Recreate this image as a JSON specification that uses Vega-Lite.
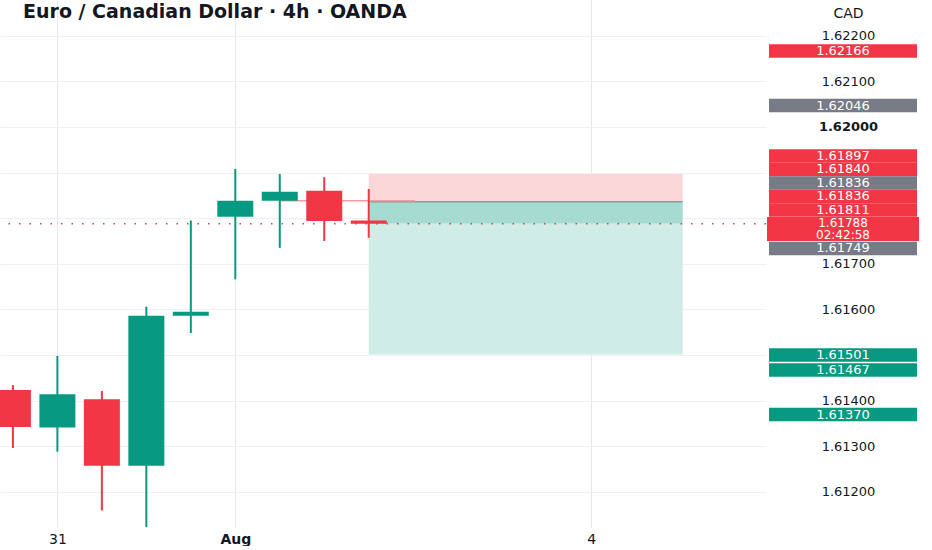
{
  "$schema": "https://vega.github.io/schema/vega-lite/v6.json",
  "padding": 0,
  "background": "white",
  "spacing": 3,
  "bounds": "flush",
  "config": {"view": {"stroke": null}, "font": "DejaVu Sans"},
  "resolve": {
    "scale": {"x": "independent", "y": "independent", "color": "independent"},
    "axis": {"x": "independent", "y": "independent"}
  },
  "datasets": {
    "candles": [
      {"bar": 0, "open": 1.61423, "high": 1.61434, "low": 1.61296, "close": 1.61342},
      {"bar": 1, "open": 1.61341, "high": 1.61498, "low": 1.61288, "close": 1.61414},
      {"bar": 2, "open": 1.61403, "high": 1.61421, "low": 1.61159, "close": 1.61257},
      {"bar": 3, "open": 1.61257, "high": 1.61606, "low": 1.61122, "close": 1.61586},
      {"bar": 4, "open": 1.61586, "high": 1.61795, "low": 1.61548, "close": 1.61595},
      {"bar": 5, "open": 1.61803, "high": 1.61908, "low": 1.61666, "close": 1.61838},
      {"bar": 6, "open": 1.61838, "high": 1.61897, "low": 1.61735, "close": 1.61858},
      {"bar": 7, "open": 1.61860, "high": 1.61890, "low": 1.61750, "close": 1.61794},
      {"bar": 8, "open": 1.61795, "high": 1.61864, "low": 1.61757, "close": 1.61788}
    ],
    "zones": [
      {"zone": "stop", "start": 8, "end": 15.06, "top": 1.61897, "bottom": 1.61836},
      {"zone": "open", "start": 8, "end": 15.06, "top": 1.61836, "bottom": 1.61788},
      {"zone": "target", "start": 8, "end": 15.06, "top": 1.61788, "bottom": 1.61501}
    ],
    "lines": [
      {"kind": "entry", "start": 8, "end": 15.06, "price": 1.61836},
      {"kind": "ray", "start": 6, "end": 9.04, "price": 1.61838}
    ],
    "last": [{"price": 1.61788}],
    "badges": [
      {"price": 1.62166, "level": 1.621667, "side": "sell"},
      {"price": 1.62046, "level": 1.620471, "side": "neutral"},
      {"price": 1.61897, "level": 1.619364, "side": "sell"},
      {"price": 1.61840, "level": 1.619068, "side": "sell"},
      {"price": 1.61836, "level": 1.618772, "side": "neutral"},
      {"price": 1.61836, "level": 1.618476, "side": "sell"},
      {"price": 1.61811, "level": 1.618180, "side": "sell"},
      {"price": 1.61749, "level": 1.617336, "side": "neutral"},
      {"price": 1.61501, "level": 1.615000, "side": "buy"},
      {"price": 1.61467, "level": 1.614671, "side": "buy"},
      {"price": 1.61370, "level": 1.613695, "side": "buy"}
    ],
    "countdown": [
      {"price": 1.61788, "level": 1.617763, "label": "1.61788\n02:42:58"}
    ]
  },
  "hconcat": [
    {
      "width": 766,
      "height": 527,
      "title": {
        "text": "Euro / Canadian Dollar · 4h · OANDA",
        "anchor": "start",
        "frame": "group",
        "orient": "top",
        "offset": -37,
        "dx": 23,
        "baseline": "alphabetic",
        "fontSize": 19,
        "fontWeight": "bold",
        "color": "#131722",
        "font": "DejaVu Sans"
      },
      "layer": [
        {
          "data": {"name": "zones"},
          "mark": {"type": "rect", "clip": true},
          "encoding": {
            "x": {"field": "start", "type": "quantitative",
                  "scale": {"domain": [-0.178, 16.82], "nice": false, "zero": false},
                  "axis": {"values": [1, 5, 13], "title": null, "labelExpr": "datum.value == 1 ? '31' : datum.value == 5 ? 'Aug' : datum.value == 13 ? '4' : ''", "grid": true, "gridColor": "#e6e8ec", "domain": false, "ticks": false, "labelFontSize": 14, "labelColor": "#131722", "labelPadding": 5, "labelFontWeight": {"condition": {"test": "datum.value == 5", "value": "bold"}, "value": "normal"}}},
            "x2": {"field": "end"},
            "y": {"field": "top", "type": "quantitative",
                  "scale": {"domain": [1.611228, 1.622785], "nice": false, "zero": false},
                  "axis": {"orient": "right", "values": [1.612, 1.613, 1.614, 1.615, 1.616, 1.617, 1.618, 1.619, 1.62, 1.621, 1.622], "labels": false, "ticks": false, "domain": false, "grid": true, "gridColor": "#eef0f3", "title": null}},
            "y2": {"field": "bottom"},
            "color": {"field": "zone", "type": "nominal",
                      "scale": {"domain": ["stop", "open", "target"], "range": ["#fcd7da", "#a6dbd1", "#d0ece7"]},
                      "legend": null}
          }
        },
        {
          "data": {"name": "lines"},
          "mark": {"type": "rule", "clip": true, "strokeWidth": 1.5},
          "encoding": {
            "x": {"field": "start", "type": "quantitative", "scale": {"domain": [-0.178, 16.82], "nice": false, "zero": false},
                  "axis": {"values": [1, 5, 13], "title": null, "labelExpr": "datum.value == 1 ? '31' : datum.value == 5 ? 'Aug' : datum.value == 13 ? '4' : ''", "grid": true, "gridColor": "#e6e8ec", "domain": false, "ticks": false, "labelFontSize": 14, "labelColor": "#131722", "labelPadding": 5, "labelFontWeight": {"condition": {"test": "datum.value == 5", "value": "bold"}, "value": "normal"}}},
            "x2": {"field": "end"},
            "y": {"field": "price", "type": "quantitative", "scale": {"domain": [1.611228, 1.622785], "nice": false, "zero": false},
                  "axis": {"orient": "right", "values": [1.612, 1.613, 1.614, 1.615, 1.616, 1.617, 1.618, 1.619, 1.62, 1.621, 1.622], "labels": false, "ticks": false, "domain": false, "grid": true, "gridColor": "#eef0f3", "title": null}},
            "color": {"condition": {"test": "datum.kind == 'entry'", "value": "#8a9a98"}, "value": "#f49aa2"}
          }
        },
        {
          "data": {"name": "last"},
          "mark": {"type": "rule", "clip": true, "color": "#f23645", "strokeWidth": 1.5, "strokeDash": [1.5, 9]},
          "encoding": {
            "y": {"field": "price", "type": "quantitative", "scale": {"domain": [1.611228, 1.622785], "nice": false, "zero": false},
                  "axis": {"orient": "right", "values": [1.612, 1.613, 1.614, 1.615, 1.616, 1.617, 1.618, 1.619, 1.62, 1.621, 1.622], "labels": false, "ticks": false, "domain": false, "grid": true, "gridColor": "#eef0f3", "title": null}}
          }
        },
        {
          "data": {"name": "candles"},
          "mark": {"type": "rule", "clip": true, "strokeWidth": 2},
          "encoding": {
            "x": {"field": "bar", "type": "quantitative", "scale": {"domain": [-0.178, 16.82], "nice": false, "zero": false},
                  "axis": {"values": [1, 5, 13], "title": null, "labelExpr": "datum.value == 1 ? '31' : datum.value == 5 ? 'Aug' : datum.value == 13 ? '4' : ''", "grid": true, "gridColor": "#e6e8ec", "domain": false, "ticks": false, "labelFontSize": 14, "labelColor": "#131722", "labelPadding": 5, "labelFontWeight": {"condition": {"test": "datum.value == 5", "value": "bold"}, "value": "normal"}}},
            "y": {"field": "low", "type": "quantitative", "scale": {"domain": [1.611228, 1.622785], "nice": false, "zero": false},
                  "axis": {"orient": "right", "values": [1.612, 1.613, 1.614, 1.615, 1.616, 1.617, 1.618, 1.619, 1.62, 1.621, 1.622], "labels": false, "ticks": false, "domain": false, "grid": true, "gridColor": "#eef0f3", "title": null}},
            "y2": {"field": "high"},
            "color": {"condition": {"test": "datum.close >= datum.open", "value": "#089981"}, "value": "#f23645"}
          }
        },
        {
          "data": {"name": "candles"},
          "mark": {"type": "bar", "clip": true, "width": 36},
          "encoding": {
            "x": {"field": "bar", "type": "quantitative", "scale": {"domain": [-0.178, 16.82], "nice": false, "zero": false},
                  "axis": {"values": [1, 5, 13], "title": null, "labelExpr": "datum.value == 1 ? '31' : datum.value == 5 ? 'Aug' : datum.value == 13 ? '4' : ''", "grid": true, "gridColor": "#e6e8ec", "domain": false, "ticks": false, "labelFontSize": 14, "labelColor": "#131722", "labelPadding": 5, "labelFontWeight": {"condition": {"test": "datum.value == 5", "value": "bold"}, "value": "normal"}}},
            "y": {"field": "open", "type": "quantitative", "scale": {"domain": [1.611228, 1.622785], "nice": false, "zero": false},
                  "axis": {"orient": "right", "values": [1.612, 1.613, 1.614, 1.615, 1.616, 1.617, 1.618, 1.619, 1.62, 1.621, 1.622], "labels": false, "ticks": false, "domain": false, "grid": true, "gridColor": "#eef0f3", "title": null}},
            "y2": {"field": "close"},
            "color": {"condition": {"test": "datum.close >= datum.open", "value": "#089981"}, "value": "#f23645"}
          }
        }
      ]
    },
    {
      "width": 148,
      "height": 527,
      "layer": [
        {
          "data": {"name": "badges"},
          "mark": {"type": "tick", "orient": "horizontal", "thickness": 13.5, "size": 148, "opacity": 1},
          "encoding": {
            "y": {"field": "level", "type": "quantitative", "scale": {"domain": [1.611228, 1.622785], "nice": false, "zero": false},
                  "axis": {"orient": "left", "values": [1.612, 1.613, 1.614, 1.616, 1.617, 1.62, 1.621, 1.622], "format": ".5f", "labelAlign": "center", "labelBaseline": "middle", "labelPadding": -79, "tickSize": 0, "ticks": false, "domain": false, "grid": false, "labelFontSize": 13, "labelColor": "#131722", "labelOverlap": false, "labelFlush": false, "labelBound": false, "labelFontWeight": {"condition": {"test": "abs(datum.value - 1.62) < 0.00001", "value": "bold"}, "value": "normal"}, "title": "CAD", "titleAngle": 0, "titleX": 79, "titleY": 13, "titleAlign": "center", "titleBaseline": "middle", "titleFontSize": 14, "titleFontWeight": "normal", "titleColor": "#131722"}},
            "color": {"field": "side", "type": "nominal",
                      "scale": {"domain": ["sell", "neutral", "buy"], "range": ["#f23645", "#787b86", "#089981"]}, "legend": null}
          }
        },
        {
          "data": {"name": "countdown"},
          "mark": {"type": "tick", "orient": "horizontal", "thickness": 24, "size": 152, "opacity": 1, "color": "#f23645"},
          "encoding": {
            "y": {"field": "level", "type": "quantitative", "scale": {"domain": [1.611228, 1.622785], "nice": false, "zero": false},
                  "axis": {"orient": "left", "values": [1.612, 1.613, 1.614, 1.616, 1.617, 1.62, 1.621, 1.622], "format": ".5f", "labelAlign": "center", "labelBaseline": "middle", "labelPadding": -79, "tickSize": 0, "ticks": false, "domain": false, "grid": false, "labelFontSize": 13, "labelColor": "#131722", "labelOverlap": false, "labelFlush": false, "labelBound": false, "labelFontWeight": {"condition": {"test": "abs(datum.value - 1.62) < 0.00001", "value": "bold"}, "value": "normal"}, "title": "CAD", "titleAngle": 0, "titleX": 79, "titleY": 13, "titleAlign": "center", "titleBaseline": "middle", "titleFontSize": 14, "titleFontWeight": "normal", "titleColor": "#131722"}}
          }
        },
        {
          "data": {"name": "badges"},
          "mark": {"type": "text", "color": "white", "fontSize": 13, "align": "center", "baseline": "middle"},
          "encoding": {
            "y": {"field": "level", "type": "quantitative", "scale": {"domain": [1.611228, 1.622785], "nice": false, "zero": false},
                  "axis": {"orient": "left", "values": [1.612, 1.613, 1.614, 1.616, 1.617, 1.62, 1.621, 1.622], "format": ".5f", "labelAlign": "center", "labelBaseline": "middle", "labelPadding": -79, "tickSize": 0, "ticks": false, "domain": false, "grid": false, "labelFontSize": 13, "labelColor": "#131722", "labelOverlap": false, "labelFlush": false, "labelBound": false, "labelFontWeight": {"condition": {"test": "abs(datum.value - 1.62) < 0.00001", "value": "bold"}, "value": "normal"}, "title": "CAD", "titleAngle": 0, "titleX": 79, "titleY": 13, "titleAlign": "center", "titleBaseline": "middle", "titleFontSize": 14, "titleFontWeight": "normal", "titleColor": "#131722"}},
            "text": {"field": "price", "type": "quantitative", "format": ".5f"}
          }
        },
        {
          "data": {"name": "countdown"},
          "mark": {"type": "text", "color": "white", "fontSize": 12, "align": "center", "baseline": "middle", "lineBreak": "\n", "lineHeight": 12, "dy": -6},
          "encoding": {
            "y": {"field": "level", "type": "quantitative", "scale": {"domain": [1.611228, 1.622785], "nice": false, "zero": false},
                  "axis": {"orient": "left", "values": [1.612, 1.613, 1.614, 1.616, 1.617, 1.62, 1.621, 1.622], "format": ".5f", "labelAlign": "center", "labelBaseline": "middle", "labelPadding": -79, "tickSize": 0, "ticks": false, "domain": false, "grid": false, "labelFontSize": 13, "labelColor": "#131722", "labelOverlap": false, "labelFlush": false, "labelBound": false, "labelFontWeight": {"condition": {"test": "abs(datum.value - 1.62) < 0.00001", "value": "bold"}, "value": "normal"}, "title": "CAD", "titleAngle": 0, "titleX": 79, "titleY": 13, "titleAlign": "center", "titleBaseline": "middle", "titleFontSize": 14, "titleFontWeight": "normal", "titleColor": "#131722"}},
            "text": {"field": "label", "type": "nominal"}
          }
        }
      ]
    }
  ]
}
